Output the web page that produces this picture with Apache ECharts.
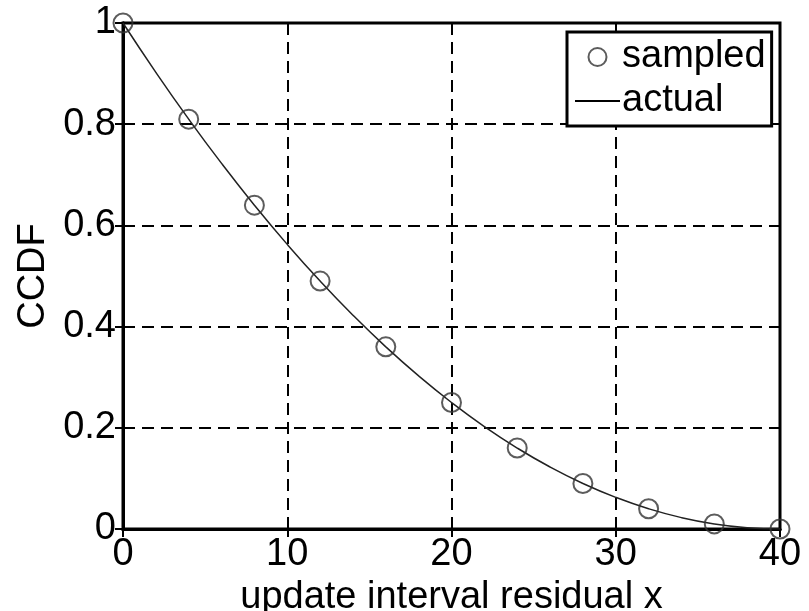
<!DOCTYPE html>
<html><head><meta charset="utf-8">
<script src="https://cdn.jsdelivr.net/npm/echarts@6/dist/echarts.min.js"></script>
<style>html,body{margin:0;padding:0;background:#fff}#c{width:809px;height:611px}</style>
</head><body><div id="c"></div>
<script>
const sampledX = [0, 4, 8, 12, 16, 20, 24, 28, 32, 36, 40];
const sampledY = [1.0, 0.81, 0.64, 0.49, 0.36, 0.25, 0.16, 0.09, 0.04, 0.01, 0.0];
const actualX = [0, 2, 4, 6, 8, 10, 12, 14, 16, 18, 20, 22, 24, 26, 28, 30, 32, 34, 36, 38, 40];
const actualY = [1.0, 0.9025, 0.81, 0.7225, 0.64, 0.5625, 0.49, 0.4225, 0.36, 0.3025, 0.25, 0.2025, 0.16, 0.1225, 0.09, 0.0625, 0.04, 0.0225, 0.01, 0.0025, 0.0];
const xTicks = [0, 10, 20, 30, 40];
const yTicks = [0, 0.2, 0.4, 0.6, 0.8, 1];
const xName = 'update interval residual x';
const yName = 'CCDF';

const FONT = 'Liberation Sans';
const chart = echarts.init(document.getElementById('c'), null, {renderer: 'canvas'});
const dash = {color: '#000', width: 2, type: [12, 7]};
chart.setOption({
  animation: false,
  backgroundColor: '#fff',
  grid: {left: 123, right: 29, top: 23, bottom: 82, show: true, borderColor: '#000', borderWidth: 3,
         backgroundColor: 'transparent', containLabel: false, outerBoundsMode: 'none'},
  legend: {
    left: 567, top: 32, orient: 'vertical',
    backgroundColor: '#fff', borderColor: '#000', borderWidth: 3,
    padding: [6, 6, 6, 8], itemGap: 6, itemWidth: 45, itemHeight: 18,
    textStyle: {fontFamily: FONT, fontSize: 38, color: '#000', padding: [0, 0, 0, -3]},
    data: [{name: 'sampled', icon: 'circle'},
           {name: 'actual', icon: 'path://M0,0L45,0L45,2L0,2Z', itemStyle: {color: '#000'}}]
  },
  xAxis: [{
    type: 'value', min: 0, max: 40, interval: 10,
    name: xName, nameLocation: 'middle', nameGap: 36,
    nameTextStyle: {fontFamily: FONT, fontSize: 38, color: '#000'},
    axisLine: {show: true, onZero: false, lineStyle: {color: '#000', width: 3}},
    axisTick: {show: true, inside: true, length: 8, lineStyle: {color: '#000', width: 2}},
    axisLabel: {fontFamily: FONT, fontSize: 38, color: '#000', margin: 7,
      formatter: v => xTicks.includes(v) ? String(v) : ''},
    splitLine: {show: true, lineStyle: dash}
  }, {
    type: 'value', min: 0, max: 40, interval: 10, position: 'top',
    axisLine: {show: true, lineStyle: {color: '#000', width: 3}},
    axisTick: {show: true, inside: true, length: 8, lineStyle: {color: '#000', width: 2}},
    axisLabel: {show: false}, splitLine: {show: false}
  }],
  yAxis: [{
    type: 'value', min: 0, max: 1, interval: 0.2,
    name: yName, nameLocation: 'middle', nameGap: 64, nameRotate: 90,
    nameTextStyle: {fontFamily: FONT, fontSize: 38, color: '#000'},
    axisLine: {show: true, onZero: false, lineStyle: {color: '#000', width: 3}},
    axisTick: {show: true, inside: true, length: 8, lineStyle: {color: '#000', width: 2}},
    axisLabel: {fontFamily: FONT, fontSize: 38, color: '#000', margin: 7,
      formatter: v => String(Math.round(v * 10) / 10)},
    splitLine: {show: true, lineStyle: dash}
  }, {
    type: 'value', min: 0, max: 1, interval: 0.2, position: 'right',
    axisLine: {show: true, lineStyle: {color: '#000', width: 3}},
    axisTick: {show: true, inside: true, length: 8, lineStyle: {color: '#000', width: 2}},
    axisLabel: {show: false}, splitLine: {show: false}
  }],
  series: [{
    name: 'actual', type: 'line', smooth: true, symbol: 'none',
    data: actualX.map((x, i) => [x, actualY[i]]),
    lineStyle: {color: '#222', width: 1.5}, itemStyle: {color: '#222'}, z: 3
  }, {
    name: 'sampled', type: 'scatter', symbol: 'circle', symbolSize: 19,
    data: sampledX.map((x, i) => [x, sampledY[i]]),
    itemStyle: {color: 'rgba(255,255,255,0)', borderColor: '#333', borderWidth: 2},
    clip: false, z: 4
  }]
});
</script></body></html>
